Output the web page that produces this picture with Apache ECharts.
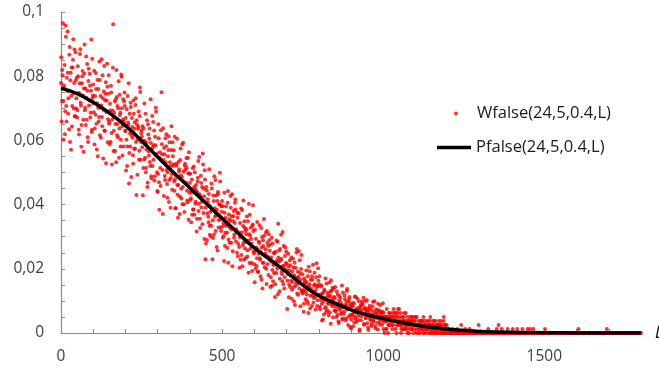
<!DOCTYPE html>
<html>
<head>
<meta charset="utf-8">
<script src="https://cdn.jsdelivr.net/npm/echarts@6/dist/echarts.min.js"></script>
<style>
html,body{margin:0;padding:0;background:#fff;}
#chart{width:659px;height:371px;}
</style>
</head>
<body>
<div id="chart"></div>
<script>
// Simulated false-alarm rate W.
// wfalseEven: L = 0, 2, 4, ... 1800 ; wfalseOdd: L = 1, 3, 5, ... 1199
const L_STEP = 2;
const ODD_L_START = 1;
const wfalseEven = [
0.0779,0.0659,0.0819,0.0965,0.0723,0.0763,0.0619,0.0958,0.0707,0.0795,0.0939,0.0683,0.0755,0.0867,0.0595,0.0811,0.0739,0.0643,0.0827,0.0915,0.0699,0.0883,0.0675,0.0787,0.0731,
0.0671,0.0831,0.0747,0.0618,0.0778,0.0884,0.0709,0.0648,0.0800,0.0740,0.0565,0.0808,0.0694,0.0762,0.0861,0.0664,0.0755,0.0595,0.0823,0.0724,0.0770,0.0686,0.0914,0.0633,0.0732,
0.0774,0.0688,0.0587,0.0738,0.0810,0.0652,0.0716,0.0551,0.0760,0.0673,0.0788,0.0702,0.0608,0.0853,0.0644,0.0731,0.0695,0.0832,0.0630,0.0745,0.0529,0.0724,0.0767,0.0666,0.0803,
0.0658,0.0714,0.0595,0.0749,0.0525,0.0693,0.0962,0.0630,0.0672,0.0567,0.0728,0.0819,0.0616,0.0651,0.0700,0.0546,0.0742,0.0686,0.0602,0.0798,0.0644,0.0665,0.0581,0.0721,0.0707,
0.0629,0.0506,0.0697,0.0581,0.0656,0.0778,0.0561,0.0622,0.0717,0.0486,0.0670,0.0608,0.0527,0.0683,0.0636,0.0574,0.0731,0.0430,0.0649,0.0602,0.0642,0.0540,0.0676,0.0751,0.0595,
0.0631,0.0579,0.0429,0.0637,0.0540,0.0598,0.0683,0.0514,0.0592,0.0455,0.0650,0.0566,0.0605,0.0533,0.0728,0.0488,0.0572,0.0520,0.0657,0.0585,0.0475,0.0611,0.0702,0.0553,0.0501,
0.0439,0.0650,0.0470,0.0545,0.0514,0.0632,0.0750,0.0557,0.0371,0.0539,0.0576,0.0489,0.0607,0.0582,0.0508,0.0421,0.0551,0.0613,0.0477,0.0532,0.0390,0.0570,0.0495,0.0594,0.0520,
0.0569,0.0443,0.0479,0.0389,0.0527,0.0605,0.0431,0.0461,0.0503,0.0371,0.0539,0.0491,0.0419,0.0587,0.0455,0.0473,0.0401,0.0521,0.0509,0.0467,0.0515,0.0413,0.0545,0.0353,0.0497,
0.0467,0.0414,0.0345,0.0478,0.0438,0.0385,0.0519,0.0368,0.0449,0.0409,0.0443,0.0356,0.0472,0.0536,0.0403,0.0432,0.0327,0.0490,0.0391,0.0455,0.0559,0.0374,0.0426,0.0507,0.0230,
0.0279,0.0444,0.0373,0.0406,0.0345,0.0510,0.0306,0.0378,0.0334,0.0450,0.0230,0.0296,0.0411,0.0488,0.0362,0.0318,0.0428,0.0384,0.0257,0.0433,0.0351,0.0400,0.0472,0.0329,0.0395,
0.0411,0.0297,0.0343,0.0224,0.0375,0.0312,0.0395,0.0333,0.0265,0.0442,0.0291,0.0354,0.0328,0.0427,0.0281,0.0364,0.0208,0.0349,0.0380,0.0307,0.0406,0.0385,0.0323,0.0250,0.0359,
0.0278,0.0313,0.0203,0.0343,0.0303,0.0243,0.0383,0.0273,0.0413,0.0228,0.0328,0.0318,0.0283,0.0323,0.0238,0.0348,0.0188,0.0308,0.0368,0.0263,0.0293,0.0218,0.0333,0.0398,0.0253,
0.0214,0.0322,0.0200,0.0266,0.0233,0.0261,0.0191,0.0285,0.0336,0.0228,0.0252,0.0167,0.0299,0.0219,0.0271,0.0355,0.0205,0.0247,0.0313,0.0153,0.0280,0.0238,0.0181,0.0289,0.0256,
0.0143,0.0235,0.0297,0.0196,0.0161,0.0249,0.0213,0.0112,0.0253,0.0187,0.0227,0.0284,0.0340,0.0222,0.0130,0.0262,0.0205,0.0231,0.0183,0.0315,0.0152,0.0209,0.0174,0.0266,0.0218,
0.0195,0.0075,0.0183,0.0207,0.0151,0.0227,0.0211,0.0163,0.0107,0.0191,0.0231,0.0143,0.0179,0.0087,0.0203,0.0155,0.0262,0.0171,0.0119,0.0255,0.0139,0.0187,0.0167,0.0243,0.0131,
0.0123,0.0134,0.0091,0.0163,0.0156,0.0130,0.0159,0.0098,0.0177,0.0062,0.0148,0.0192,0.0116,0.0138,0.0084,0.0166,0.0213,0.0109,0.0127,0.0152,0.0073,0.0174,0.0145,0.0102,0.0202,
0.0119,0.0177,0.0074,0.0103,0.0148,0.0039,0.0125,0.0097,0.0058,0.0132,0.0109,0.0081,0.0154,0.0071,0.0116,0.0093,0.0113,0.0065,0.0129,0.0164,0.0090,0.0106,0.0049,0.0138,0.0084,
0.0109,0.0067,0.0092,0.0129,0.0056,0.0089,0.0031,0.0115,0.0078,0.0095,0.0064,0.0148,0.0045,0.0081,0.0059,0.0117,0.0087,0.0039,0.0098,0.0137,0.0073,0.0050,0.0106,0.0084,0.0019,
0.0014,0.0083,0.0054,0.0093,0.0064,0.0033,0.0114,0.0045,0.0074,0.0062,0.0107,0.0040,0.0078,0.0006,0.0071,0.0086,0.0052,0.0098,0.0088,0.0059,0.0026,0.0076,0.0100,0.0047,0.0069,
0.0030,0.0076,0.0009,0.0059,0.0085,0.0041,0.0053,0.0022,0.0070,0.0097,0.0036,0.0047,0.0062,0.0015,0.0074,0.0057,0.0032,0.0091,0.0045,0.0051,0.0026,0.0068,0.0064,0.0049,0.0066,
0.00375,0.00625,0,0.005,0.00375,0.00125,0.005,0.00375,0.0025,0.00625,0.0025,0.005,0.00375,0.00375,0.00125,0.005,0.0075,0.00375,0.00375,0.00125,0.00625,0.0025,0.005,0.0075,0.0025,
0.00375,0.0025,0.00625,0.00125,0.0025,0.00125,0.005,0.00375,0.00125,0.00375,0.00625,0.0025,0.00125,0.00375,0.0025,0,0.005,0.0025,0.00375,0.005,0.00125,0.00375,0,0.005,0.0025,
0.0025,0.0025,0.005,0.00125,0.0025,0,0.0025,0.00375,0.00125,0.00375,0.00375,0.00125,0,0.0025,0.00375,0.00125,0.0025,0,0.0025,0.00125,0.00375,0.0025,0,0.005,0.00125,
0.00125,0.0025,0,0.00125,0.00375,0,0.00125,0.0025,0,0.00125,0.00125,0.00375,0,0.0025,0.00125,0,0.0025,0.00125,0,0.005,0.00125,0.0025,0,0.00125,0,
0.00125,0,0.00125,0,0,0,0,0,0.00125,0,0,0,0,0,0,0.00125,0,0,0,0,0,0.0025,0,0,0,
0,0,0.00125,0,0,0,0,0,0,0.00125,0,0,0,0,0,0,0,0,0,0,0,0,0,0.0025,0,
0,0,0,0,0,0,0,0,0,0,0,0,0,0.00125,0,0,0,0,0,0,0,0,0,0,0,
0,0.00125,0,0,0.0025,0,0,0,0,0.00125,0,0,0,0,0,0,0,0,0.00125,0,0,0,0,0,0,
0,0.00125,0,0,0,0,0,0,0.00125,0,0,0,0,0,0,0,0.00125,0,0,0,0,0,0,0,0.00125,
0,0,0,0.00125,0,0,0,0,0.00125,0,0,0,0,0,0,0,0,0,0,0,0,0,0,0,0,
0,0.00125,0,0,0,0,0,0,0,0,0,0,0,0,0,0,0,0,0,0,0,0,0,0,0,
0,0,0,0,0,0,0,0,0,0,0,0,0,0,0,0,0,0,0,0,0,0,0,0,0,
0,0,0,0.00125,0,0,0,0,0,0,0,0,0,0,0,0,0,0,0,0,0,0,0,0,0,
0,0,0,0,0,0,0,0,0,0,0,0,0,0,0,0,0,0,0,0,0,0,0.00125,0,0,
0,0,0,0,0,0,0,0,0,0,0,0,0,0,0,0,0,0,0,0,0,0,0,0,0,
0,0,0,0,0,0,0,0,0,0,0,0,0,0,0,0,0,0,0,0,0,0,0,0,0,
0
];
const wfalseOdd = [
0.0859,0.0723,0.0803,0.0603,0.0771,0.0835,0.0691,0.0923,0.0659,0.0755,0.0811,0.0731,0.0635,0.0891,0.0787,0.0571,0.0827,0.0707,0.0851,0.0747,0.0779,0.0675,0.0875,0.0699,0.0795,
0.0694,0.0800,0.0633,0.0747,0.0869,0.0717,0.0580,0.0778,0.0816,0.0664,0.0762,0.0899,0.0702,0.0648,0.0732,0.0838,0.0610,0.0785,0.0709,0.0808,0.0671,0.0755,0.0626,0.0854,0.0740,
0.0716,0.0817,0.0637,0.0680,0.0760,0.0572,0.0788,0.0702,0.0659,0.0846,0.0616,0.0738,0.0709,0.0673,0.0803,0.0544,0.0752,0.0630,0.0724,0.0781,0.0688,0.0839,0.0594,0.0745,0.0652,
0.0588,0.0693,0.0770,0.0623,0.0665,0.0826,0.0567,0.0686,0.0721,0.0651,0.0532,0.0735,0.0707,0.0609,0.0784,0.0637,0.0679,0.0581,0.0805,0.0700,0.0553,0.0728,0.0658,0.0749,0.0630,
0.0670,0.0602,0.0520,0.0738,0.0649,0.0466,0.0683,0.0581,0.0704,0.0615,0.0642,0.0554,0.0724,0.0574,0.0656,0.0710,0.0595,0.0663,0.0493,0.0636,0.0690,0.0568,0.0765,0.0540,0.0622,
0.0611,0.0644,0.0514,0.0598,0.0715,0.0546,0.0501,0.0572,0.0663,0.0468,0.0618,0.0553,0.0637,0.0520,0.0592,0.0481,0.0676,0.0579,0.0540,0.0631,0.0488,0.0585,0.0689,0.0559,0.0442,
0.0495,0.0607,0.0384,0.0563,0.0458,0.0539,0.0588,0.0508,0.0638,0.0427,0.0557,0.0477,0.0532,0.0619,0.0464,0.0501,0.0570,0.0408,0.0594,0.0520,0.0483,0.0644,0.0446,0.0551,0.0526,
0.0473,0.0611,0.0389,0.0491,0.0521,0.0461,0.0359,0.0533,0.0509,0.0425,0.0575,0.0449,0.0485,0.0401,0.0593,0.0503,0.0377,0.0527,0.0467,0.0545,0.0443,0.0407,0.0497,0.0563,0.0437,
0.0496,0.0420,0.0443,0.0368,0.0513,0.0385,0.0455,0.0501,0.0403,0.0461,0.0316,0.0438,0.0484,0.0380,0.0548,0.0356,0.0426,0.0467,0.0409,0.0339,0.0525,0.0449,0.0293,0.0478,0.0391,
0.0455,0.0290,0.0417,0.0362,0.0433,0.0334,0.0395,0.0301,0.0466,0.0384,0.0351,0.0428,0.0307,0.0389,0.0477,0.0367,0.0268,0.0411,0.0439,0.0329,0.0400,0.0499,0.0356,0.0318,0.0378,
0.0395,0.0333,0.0302,0.0437,0.0271,0.0359,0.0338,0.0312,0.0406,0.0219,0.0369,0.0281,0.0349,0.0390,0.0323,0.0432,0.0255,0.0364,0.0297,0.0343,0.0416,0.0286,0.0317,0.0375,0.0239,
0.0373,0.0268,0.0298,0.0228,0.0388,0.0313,0.0208,0.0333,0.0283,0.0348,0.0263,0.0233,0.0308,0.0363,0.0258,0.0288,0.0403,0.0218,0.0303,0.0328,0.0278,0.0193,0.0338,0.0318,0.0248,
0.0158,0.0256,0.0294,0.0209,0.0346,0.0191,0.0247,0.0280,0.0233,0.0177,0.0327,0.0266,0.0139,0.0289,0.0219,0.0303,0.0242,0.0261,0.0200,0.0318,0.0214,0.0271,0.0308,0.0228,0.0275,
0.0174,0.0222,0.0147,0.0279,0.0213,0.0187,0.0249,0.0152,0.0218,0.0288,0.0200,0.0121,0.0235,0.0257,0.0169,0.0227,0.0306,0.0191,0.0161,0.0209,0.0271,0.0139,0.0240,0.0196,0.0253,
0.0215,0.0163,0.0247,0.0111,0.0195,0.0143,0.0179,0.0235,0.0135,0.0159,0.0203,0.0099,0.0219,0.0171,0.0147,0.0251,0.0123,0.0191,0.0175,0.0155,0.0227,0.0083,0.0199,0.0131,0.0183,
0.0127,0.0066,0.0170,0.0156,0.0105,0.0195,0.0120,0.0141,0.0091,0.0206,0.0152,0.0076,0.0166,0.0130,0.0177,0.0116,0.0094,0.0148,0.0188,0.0112,0.0134,0.0217,0.0084,0.0145,0.0163,
0.0151,0.0081,0.0119,0.0145,0.0090,0.0122,0.0042,0.0109,0.0135,0.0077,0.0170,0.0065,0.0103,0.0125,0.0093,0.0055,0.0157,0.0116,0.0029,0.0132,0.0084,0.0141,0.0100,0.0113,0.0071,
0.0143,0.0070,0.0050,0.0081,0.0120,0.0036,0.0101,0.0073,0.0109,0.0059,0.0089,0.0042,0.0126,0.0084,0.0067,0.0106,0.0045,0.0087,0.0131,0.0075,0.0025,0.0098,0.0112,0.0056,0.0092,
0.0042,0.0057,0.0083,0.0021,0.0093,0.0064,0.0050,0.0112,0.0035,0.0076,0.0066,0.0054,0.0098,0.0011,0.0081,0.0040,0.0071,0.0090,0.0059,0.0110,0.0028,0.0078,0.0047,0.0069,0.0102,
0.0062,0.0017,0.0070,0.0049,0.0076,0.0041,0.0028,0.0059,0.0083,0.0038,0.0051,0.0099,0.0022,0.0057,0.0068,0.0047,0.0011,0.0072,0.0064,0.0034,0.0087,0.0043,0.0055,0.0026,0.0093,
0.00125,0.00375,0.005,0.00375,0.00125,0.0075,0.005,0,0.005,0.0025,0.00625,0.00375,0.005,0.0025,0.00625,0.0025,0.005,0.00625,0.00375,0.005,0,0.00375,0.00625,0.0025,0.0075,
0.005,0.0025,0,0.00375,0.005,0.00125,0.00375,0.00625,0.0025,0.00125,0.0025,0.005,0,0.00375,0.0025,0.00375,0.00125,0.00375,0.00125,0.005,0.0025,0.0025,0.00375,0.00125,0.00375,
0.005,0,0.0025,0.0025,0.00125,0.00375,0,0.0025,0.00125,0.0025,0.00375,0.00125,0.005,0,0.0025,0.00125,0.0025,0.00375,0.00125,0.00125,0.0025,0,0.00375,0.0025,0.00125,
0,0.0025,0.00375,0.00125,0.00125,0.00375,0,0.0025,0.0025,0.00125,0,0.0025,0.0025,0,0.00375,0.00125,0.00125,0,0.00375,0.0025,0,0.0025,0.00125,0.0025,0.00125
];

// Theoretical curve P
const pfalseL = [0,50,100,150,200,250,300,350,400,450,500,550,600,650,700,750,800,850,900,950,1000,1050,1100,1150,1200,1250,1300,1400,1500,1600,1800];
const pfalseV = [0.0762,0.0746,0.0719,0.0686,0.0646,0.0599,0.0548,0.0499,0.0452,0.0404,0.0357,0.0311,0.0265,0.0228,0.0190,0.0150,0.0116,0.0093,0.0072,0.0057,0.0045,0.0034,0.0025,0.0018,0.0012,0.0008,0.0005,0.0002,0.0001,0.00003,0];

const seriesNames = ['Wfalse(24,5,0.4,L)', 'Pfalse(24,5,0.4,L)'];
const xAxisName = 'L';

const scatterData = wfalseEven.map((w, i) => [i * L_STEP, w])
  .concat(wfalseOdd.map((w, i) => [ODD_L_START + i * L_STEP, w]));
const lineData = pfalseL.map((l, i) => [l, pfalseV[i]]);

const FONT = '"Open Sans", "Liberation Sans", sans-serif';
const axisGray = '#898989';

const chart = echarts.init(document.getElementById('chart'), null, {renderer: 'canvas'});
chart.setOption({
  animation: false,
  backgroundColor: '#ffffff',
  grid: {left: 61, right: 18, top: 12, bottom: 38, containLabel: false, outerBoundsMode: 'none'},
  legend: [
    {
      data: [{name: seriesNames[0], icon: 'circle'}],
      left: 449, top: 100, itemWidth: 32, itemHeight: 4,
      selectedMode: false,
      textStyle: {fontFamily: FONT, fontSize: 16.5, color: '#1a1a1a'}
    },
    {
      data: [{name: seriesNames[1], icon: 'rect'}],
      left: 432, top: 134, itemWidth: 34, itemHeight: 3.5,
      selectedMode: false,
      textStyle: {fontFamily: FONT, fontSize: 16.5, color: '#1a1a1a'}
    }
  ],
  xAxis: {
    type: 'value', min: 0, max: 1800, interval: 100,
    name: xAxisName, nameLocation: 'end', nameGap: 14,
    nameTextStyle: {fontFamily: FONT, fontSize: 16, fontStyle: 'italic', color: '#000', align: 'left', verticalAlign: 'middle'},
    axisLine: {lineStyle: {color: axisGray, width: 1.2}},
    axisTick: {inside: true, length: 4, lineStyle: {color: axisGray}},
    splitLine: {show: false},
    axisLabel: {
      margin: 16, fontFamily: FONT, fontSize: 15.5, color: '#404040',
      showMaxLabel: false,
      formatter: v => (Math.round(v) % 500 === 0 ? String(Math.round(v)) : '')
    }
  },
  yAxis: {
    type: 'value', min: 0, max: 0.1, interval: 0.005,
    axisLine: {show: true, lineStyle: {color: axisGray, width: 1.2}},
    axisTick: {show: true, inside: true, length: 4, lineStyle: {color: axisGray}},
    splitLine: {show: false},
    axisLabel: {
      margin: 17, fontFamily: FONT, fontSize: 15.5, color: '#404040',
      formatter: v => {
        const k = Math.round(v * 1000);
        if (k % 20 !== 0) return '';
        return k === 0 ? '0' : String(k / 1000).replace('.', ',');
      }
    }
  },
  series: [
    {
      name: seriesNames[0], type: 'scatter', data: scatterData,
      symbol: 'circle', symbolSize: 4,
      itemStyle: {color: '#ff0000'},
      z: 2
    },
    {
      name: seriesNames[1], type: 'line', data: lineData,
      smooth: 0.4, showSymbol: false, symbol: 'none',
      lineStyle: {color: '#000000', width: 3.5},
      itemStyle: {color: '#000000'},
      z: 3
    }
  ]
});
</script>
</body>
</html>
